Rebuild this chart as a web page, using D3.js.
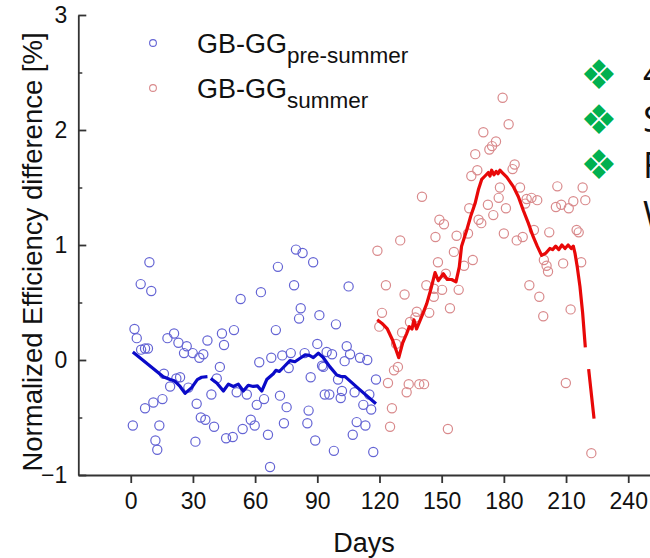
<!DOCTYPE html>
<html><head><meta charset="utf-8">
<script src="https://cdn.jsdelivr.net/npm/d3@7"></script>
<style>body{margin:0;background:#fff;overflow:hidden} svg{display:block}</style>
</head><body>
<svg id="c" width="650" height="558"></svg>
<script>
// ---------- data ----------
const xTicks = [0, 30, 60, 90, 120, 150, 180, 210, 240];
const yTicks = [-1, 0, 1, 2, 3];
const yMinorTicks = [-0.5, 0.5, 1.5, 2.5];
const xTitle = "Days";
const yTitle = "Normalized Efficiency difference [%]";
const legendMain = ["GB-GG", "GB-GG"];
const legendSub = ["pre-summer", "summer"];
const sideLetters = ["4", "S", "F", "W"];
const sideBulletGlyph = "\u2756";

// [day, value]
const preSummerPoints = [
  [1,-0.57],[1.8,0.27],[2.9,0.19],[4.8,0.66],[5.0,0.09],[6.9,0.10],[6.9,-0.42],[8.3,0.10],[9.0,0.85],[9.9,0.60],
  [10.9,-0.37],[11.9,-0.70],[12.8,-0.78],[13.8,-0.57],[15.3,-0.34],[16,-0.12],[17.7,0.19],[19,-0.23],[20.9,0.23],[22,-0.16],
  [23,0.15],[23.8,-0.15],[25.7,0.06],[27,0.12],[27.8,-0.24],[29.9,0.06],[31.2,-0.71],[31.8,-0.38],[33.1,0.02],[33.8,-0.50],
  [35,0.05],[36,-0.52],[37,0.17],[38.9,-0.30],[40.2,-0.58],[41.5,-0.16],[43,-0.06],[44,0.23],[45,0.13],[46,-0.68],
  [49.2,-0.67],[49.8,0.26],[51.1,-0.28],[53,0.53],[54,-0.60],[56,-0.30],[57.9,-0.52],[59.8,-0.57],[60.8,-0.39],[62,-0.02],
  [62.8,0.59],[64.3,-0.34],[66.2,-0.65],[67.2,-0.93],[67.8,0.02],[70,0.26],[71,0.81],[72,-0.31],[73.1,0.04],[73.9,-0.55],
  [75.2,-0.41],[76.2,-0.07],[77.2,0.06],[78.8,0.65],[79.7,0.96],[81.2,0.36],[82,0.45],[82.9,0.93],[83.9,0.06],[85.2,-0.55],
  [85.8,-0.44],[86.8,-0.15],[88,0.85],[89,-0.70],[90,0.14],[91,0.39],[92.3,-0.05],[92.9,-0.06],[93.6,-0.30],[94.5,0.07],
  [95.8,-0.30],[97.1,0.05],[98,-0.79],[99,0.31],[100,-0.17],[101.3,-0.33],[101.9,-0.27],[103.2,-0.01],[104.2,0.12],[105.1,0.64],
  [105.8,0.05],[107.1,-0.65],[108,-0.28],[109,-0.54],[110.6,0.02],[112.2,-0.39],[113.2,-0.57],[114.1,0.0],[115.1,-0.30],[116,-0.43],
  [117,-0.80],[118.3,-0.17]
];
const summerPoints = [
  [119,0.95],[119.9,0.29],[121.2,0.41],[123.1,0.65],[124.1,-0.20],[125.1,-0.58],[126,-0.42],[127,-0.09],[128,0.14],[128.9,-0.06],
  [130,1.04],[130.9,0.24],[132.1,0.57],[133.1,-0.28],[134.1,-0.21],[134.7,0.33],[137.3,0.37],[138,0.42],[139.2,-0.21],[140.5,1.42],
  [141.5,-0.21],[142.6,0.65],[144,0.41],[146.2,0.55],[146.3,0.62],[147,1.07],[148.2,0.85],[148.9,1.22],[150.2,0.61],[151.1,1.18],
  [152,0.75],[153,-0.60],[154,0.45],[155.9,0.94],[157.2,1.08],[158.2,0.61],[160.8,0.82],[162.7,1.10],[163.3,1.32],[164.3,1.60],
  [165,0.87],[166.2,1.79],[167.2,1.65],[167.8,1.22],[169.1,1.19],[170.1,1.98],[172.3,1.35],[173,1.83],[174.3,1.86],[174.9,1.26],
  [176.2,1.90],[177.5,1.41],[178.1,1.50],[179.4,2.28],[180,1.10],[181,1.32],[182.3,2.05],[184.2,1.66],[185.2,1.70],[186.2,1.04],
  [187.8,1.50],[189.1,1.07],[190.3,1.36],[191,1.40],[192.3,0.65],[193.3,1.41],[194.5,1.13],[196.1,1.39],[197.1,0.55],[199,0.38],
  [199.3,0.87],[200.6,0.82],[201.3,0.77],[201.9,1.11],[205.1,1.33],[205.8,1.51],[207.7,1.35],[208.6,0.84],[209.9,-0.20],[211.3,1.32],
  [212.2,0.44],[213.5,1.38],[215.1,1.13],[216.1,1.11],[217.3,0.85],[218,1.50],[219.3,1.39],[222.2,-0.81]
];
// moving-average trend lines (null = gap)
const preSummerTrend = [
  [1,0.07],[15.7,-0.145],[19,-0.17],[21,-0.18],[23.8,-0.23],[26.2,-0.29],[29.4,-0.24],[32.1,-0.17],[34.2,-0.15],[37,-0.145],null,
  [38.6,-0.16],[41.5,-0.20],[44.7,-0.27],[47.1,-0.21],[49.5,-0.23],[51.9,-0.21],[54.3,-0.27],[56.7,-0.22],[59.1,-0.23],[61.1,-0.225],
  [63.2,-0.27],[65.6,-0.17],[68.8,-0.12],[70,-0.09],[71.7,-0.10],[74.4,-0.05],[76.8,-0.005],[79.2,-0.015],[81.7,0.015],[84.1,0.045],
  [86.2,0.04],[88.1,0.02],[90.5,0.06],[92.9,0.02],[96.1,-0.06],[99.4,-0.13],[101.8,-0.145],[103.4,-0.145],[110.6,-0.26],[118.3,-0.38]
];
const summerTrend = [
  [118.9,0.35],[121.1,0.32],[123.8,0.27],[126.4,0.17],[129.3,0.02],[131.2,0.15],[133.1,0.23],[134.4,0.29],[135.7,0.27],[136.6,0.35],
  [137.9,0.27],[140.4,0.38],[142.8,0.49],[144.7,0.61],[146.8,0.76],[148.4,0.69],[150.8,0.75],[152.7,0.70],[154.8,0.70],[156.9,0.68],
  [158.5,0.81],[159.6,0.99],[162.1,1.13],[164,1.25],[166.1,1.36],[167.7,1.48],[169.3,1.57],[170.9,1.60],[172.5,1.63],[173.3,1.60],
  [174.1,1.65],[175.2,1.61],[176.3,1.64],[177.2,1.62],[178.1,1.65],[179.2,1.63],[181.4,1.59],[184.5,1.51],[187,1.42],[189.4,1.30],
  [191.8,1.19],[194.2,1.07],[196.1,0.99],[198.2,0.91],[200.3,0.93],[202.2,0.97],[203.5,0.96],[205,0.99],[206.5,0.96],[208,1.0],
  [209.5,0.97],[211,1.0],[212.5,0.97],[213.5,0.99],[214.3,0.93],[215.4,0.81],[216.7,0.64],[218,0.41],[219.3,0.11],null,
  [220.9,-0.08],[223.5,-0.51]
];

// ---------- chart ----------
const svg = d3.select("#c");
const FONT = "'Liberation Sans', Arial, sans-serif";
const x = d3.scaleLinear().domain([-25.3, 250.5]).range([78.3, 650]);
const y = d3.scaleLinear().domain([-1, 3]).range([475, 15]);
const axisColor = "#333";

// x axis
const gx = svg.append("g").attr("transform", `translate(0,${y(-1)})`)
  .call(d3.axisBottom(x).tickValues(xTicks).tickSizeInner(8).tickSizeOuter(0).tickPadding(10));
gx.selectAll("path,line").attr("stroke", axisColor).attr("stroke-width", 1.8);
gx.selectAll("text").attr("font-family", FONT).attr("font-size", 23).attr("fill", "#111");

// y axis
const gy = svg.append("g").attr("transform", `translate(${x.range()[0]},0)`)
  .call(d3.axisLeft(y).tickValues(yTicks).tickSizeInner(-8).tickSizeOuter(0).tickPadding(11).tickFormat(d3.format("d")));
gy.selectAll("path,line").attr("stroke", axisColor).attr("stroke-width", 1.8);
gy.selectAll("text").attr("font-family", FONT).attr("font-size", 23).attr("fill", "#111");
const gym = svg.append("g").attr("transform", `translate(${x.range()[0]},0)`)
  .call(d3.axisLeft(y).tickValues(yMinorTicks).tickSizeInner(-4).tickSizeOuter(0).tickFormat(""));
gym.select("path").remove();
gym.selectAll("line").attr("stroke", axisColor).attr("stroke-width", 1.5);

// titles
svg.append("text").attr("x", 364).attr("y", 552).attr("text-anchor", "middle")
  .attr("font-family", FONT).attr("font-size", 27).attr("fill", "#111").text(xTitle);
svg.append("text").attr("transform", "translate(42,252) rotate(-90)").attr("text-anchor", "middle")
  .attr("font-family", FONT).attr("font-size", 27.5).attr("fill", "#111").text(yTitle);

// scatter
const blueMarker = "#6464d4", redMarker = "#d98a8c";
svg.append("g").selectAll("circle").data(preSummerPoints).join("circle")
  .attr("cx", d => x(d[0])).attr("cy", d => y(d[1])).attr("r", 4.6)
  .attr("fill", "none").attr("stroke", blueMarker).attr("stroke-width", 1.2);
svg.append("g").selectAll("circle").data(summerPoints).join("circle")
  .attr("cx", d => x(d[0])).attr("cy", d => y(d[1])).attr("r", 4.6)
  .attr("fill", "none").attr("stroke", redMarker).attr("stroke-width", 1.2);

// trends
const line = d3.line().defined(d => d !== null).x(d => x(d[0])).y(d => y(d[1]));
svg.append("path").attr("d", line(preSummerTrend)).attr("fill", "none")
  .attr("stroke", "#0a0ac8").attr("stroke-width", 3.2).attr("stroke-linejoin", "round");
svg.append("path").attr("d", line(summerTrend)).attr("fill", "none")
  .attr("stroke", "#e80808").attr("stroke-width", 3.2).attr("stroke-linejoin", "round");

// legend
const legY = [43, 88];
const legColors = [blueMarker, redMarker];
legY.forEach((ly, i) => {
  svg.append("circle").attr("cx", 153).attr("cy", ly).attr("r", 3.4)
    .attr("fill", "none").attr("stroke", legColors[i]).attr("stroke-width", 1.1);
  const t = svg.append("text").attr("x", 197).attr("y", ly + 10)
    .attr("font-family", FONT).attr("font-size", 27).attr("fill", "#111");
  t.append("tspan").text(legendMain[i]);
  t.append("tspan").attr("dy", 10).attr("font-size", 22.5).text(legendSub[i]);
});

// side slide text (cropped by the slide edge, as in the reference)
const bulletY = [75, 120, 165];
const letterY = [86, 132, 178, 227];
bulletY.forEach(by => {
  svg.append("text").attr("x", 599).attr("y", by).attr("text-anchor", "middle")
    .attr("dominant-baseline", "central")
    .attr("font-family", "'DejaVu Sans'").attr("font-size", 41).attr("fill", "#00b050").text(sideBulletGlyph);
});
sideLetters.forEach((s, i) => {
  svg.append("text").attr("x", 643).attr("y", letterY[i])
    .attr("font-family", "'Open Sans', sans-serif").attr("font-size", 36).attr("fill", "#111").text(s);
});
</script>
</body></html>
